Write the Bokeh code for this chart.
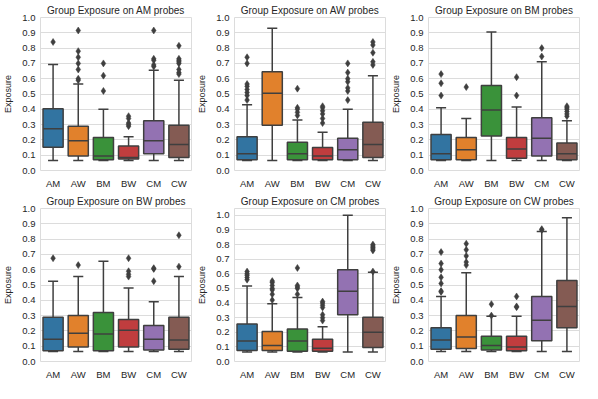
import numpy as np
from bokeh.plotting import figure
from bokeh.layouts import gridplot
from bokeh.models import Range1d, FixedTicker, ColumnDataSource, PrintfTickFormatter
from bokeh.embed import file_html
from bokeh.resources import INLINE

groups = ["AM", "AW", "BM", "BW", "CM", "CW"]
colors = ["#3274a1", "#e1812c", "#3a923a", "#c03d3e", "#9372b2", "#845b53"]
yticks = [0.0, 0.1, 0.2, 0.3, 0.4, 0.5, 0.6, 0.7, 0.8, 0.9, 1.0]

# ---- Exposure on AM probes ----
am_lo = [0.065, 0.065, 0.065, 0.065, 0.065, 0.065]
am_q1 = [0.152, 0.095, 0.070, 0.075, 0.110, 0.085]
am_med = [0.273, 0.195, 0.095, 0.085, 0.195, 0.170]
am_q3 = [0.404, 0.290, 0.215, 0.160, 0.325, 0.295]
am_hi = [0.693, 0.565, 0.400, 0.220, 0.655, 0.590]
am_out = [[0.84], [0.59, 0.60, 0.66, 0.70, 0.74, 0.78, 0.915], [0.52, 0.62, 0.70],
          [0.29, 0.30, 0.31, 0.34, 0.355], [0.68, 0.69, 0.72, 0.73, 0.915],
          [0.63, 0.64, 0.66, 0.70, 0.71, 0.72, 0.73, 0.815]]

# ---- Exposure on AW probes ----
aw_lo = [0.065, 0.065, 0.065, 0.065, 0.065, 0.065]
aw_q1 = [0.070, 0.295, 0.070, 0.070, 0.070, 0.085]
aw_med = [0.110, 0.505, 0.110, 0.095, 0.135, 0.170]
aw_q3 = [0.220, 0.645, 0.185, 0.150, 0.210, 0.315]
aw_hi = [0.430, 0.930, 0.330, 0.250, 0.400, 0.620]
aw_out = [[0.46, 0.49, 0.51, 0.53, 0.55, 0.565, 0.70, 0.74], [],
          [0.36, 0.38, 0.40, 0.41, 0.535], [0.31, 0.34, 0.37, 0.39, 0.41, 0.42],
          [0.46, 0.52, 0.54, 0.58, 0.60, 0.64, 0.70], [0.69, 0.71, 0.77, 0.82, 0.84]]

# ---- Exposure on BM probes ----
bm_lo = [0.065, 0.065, 0.065, 0.065, 0.065, 0.065]
bm_q1 = [0.070, 0.070, 0.225, 0.080, 0.095, 0.070]
bm_med = [0.110, 0.135, 0.395, 0.140, 0.210, 0.110]
bm_q3 = [0.235, 0.215, 0.555, 0.215, 0.345, 0.180]
bm_hi = [0.410, 0.340, 0.905, 0.415, 0.710, 0.325]
bm_out = [[0.49, 0.57, 0.63], [0.545], [], [0.49, 0.61], [0.745, 0.80],
          [0.355, 0.37, 0.385, 0.40, 0.41, 0.42]]

# ---- Exposure on BW probes ----
bw_lo = [0.065, 0.065, 0.065, 0.065, 0.065, 0.065]
bw_q1 = [0.070, 0.095, 0.070, 0.095, 0.075, 0.080]
bw_med = [0.145, 0.185, 0.180, 0.205, 0.145, 0.140]
bw_q3 = [0.290, 0.300, 0.320, 0.275, 0.235, 0.290]
bw_hi = [0.525, 0.555, 0.655, 0.480, 0.390, 0.555]
bw_out = [[0.675], [0.63], [], [0.555, 0.57, 0.59, 0.675], [0.525, 0.605, 0.61],
          [0.62, 0.825]]

# ---- Exposure on CM probes ----
cm_lo = [0.065, 0.065, 0.065, 0.065, 0.065, 0.065]
cm_q1 = [0.075, 0.075, 0.070, 0.070, 0.320, 0.095]
cm_med = [0.140, 0.110, 0.140, 0.090, 0.480, 0.200]
cm_q3 = [0.257, 0.205, 0.222, 0.152, 0.628, 0.302]
cm_hi = [0.517, 0.395, 0.438, 0.237, 1.000, 0.611]
cm_out = [[0.56, 0.575, 0.59, 0.60, 0.615], [0.42, 0.46, 0.49, 0.50, 0.52, 0.54, 0.55],
          [0.46, 0.50, 0.51, 0.52, 0.64], [0.28, 0.30, 0.32, 0.37, 0.385, 0.40, 0.41],
          [], [0.615, 0.76, 0.77, 0.78, 0.79, 0.80]]

# ---- Exposure on CW probes ----
cw_lo = [0.065, 0.065, 0.065, 0.065, 0.065, 0.065]
cw_q1 = [0.080, 0.085, 0.075, 0.070, 0.135, 0.220]
cw_med = [0.140, 0.160, 0.105, 0.095, 0.270, 0.360]
cw_q3 = [0.220, 0.300, 0.165, 0.165, 0.425, 0.530]
cw_hi = [0.425, 0.580, 0.295, 0.295, 0.850, 0.940]
cw_out = [[0.455, 0.46, 0.51, 0.55, 0.60, 0.64, 0.715], [0.63, 0.65, 0.69, 0.73, 0.77],
          [0.30, 0.375], [0.355, 0.36, 0.425], [0.86, 0.865], []]

panels = [
    ("AM", am_lo, am_q1, am_med, am_q3, am_hi, am_out),
    ("AW", aw_lo, aw_q1, aw_med, aw_q3, aw_hi, aw_out),
    ("BM", bm_lo, bm_q1, bm_med, bm_q3, bm_hi, bm_out),
    ("BW", bw_lo, bw_q1, bw_med, bw_q3, bw_hi, bw_out),
    ("CM", cm_lo, cm_q1, cm_med, cm_q3, cm_hi, cm_out),
    ("CW", cw_lo, cw_q1, cw_med, cw_q3, cw_hi, cw_out),
]

FONT = "Liberation Sans"
TXT = "#262626"
LINE = "#3f3f3f"
GRID = "#dcdcdc"
BOX_W = 0.8
CAP_W = 0.4


def make_panel(name, lo, q1, med, q3, hi, outl):
    x = np.arange(len(groups), dtype=float)
    all_vals = list(lo) + list(hi) + [v for o in outl for v in o]
    vmin, vmax = min(all_vals), max(all_vals)
    pad = 0.05 * (vmax - vmin)
    top = max(1.0, vmax + pad)
    bottom = min(0.0, vmin - pad)

    p = figure(width=194, height=191, output_backend="svg",
               toolbar_location=None, x_range=Range1d(-0.5, len(groups) - 0.5),
               y_range=Range1d(bottom, top),
               title="Group Exposure on %s probes" % name,
               min_border_left=0, min_border_right=3, min_border_top=0,
               min_border_bottom=0)
    p.title.align = "center"
    p.title.text_font = FONT
    p.title.text_font_size = "10px"
    p.title.text_font_style = "normal"
    p.title.text_color = TXT
    p.title.standoff = 4

    src = ColumnDataSource(dict(
        x=x, lo=lo, q1=q1, med=med, q3=q3, hi=hi, color=colors,
        left=x - BOX_W / 2, right=x + BOX_W / 2,
        cl=x - CAP_W / 2, cr=x + CAP_W / 2,
    ))
    p.segment(x0="x", x1="x", y0="lo", y1="q1", source=src, line_color=LINE, line_width=1.5)
    p.segment(x0="x", x1="x", y0="q3", y1="hi", source=src, line_color=LINE, line_width=1.5)
    p.segment(x0="cl", x1="cr", y0="lo", y1="lo", source=src, line_color=LINE, line_width=1.5)
    p.segment(x0="cl", x1="cr", y0="hi", y1="hi", source=src, line_color=LINE, line_width=1.5)
    p.quad(left="left", right="right", bottom="q1", top="q3", source=src,
           fill_color="color", line_color=LINE, line_width=1.5)
    p.segment(x0="left", x1="right", y0="med", y1="med", source=src, line_color=LINE, line_width=1.5)

    ox = [x[i] for i, o in enumerate(outl) for _ in o]
    oy = [v for o in outl for v in o]
    p.scatter(ox, oy, marker="diamond", size=7, fill_color=LINE, line_color=LINE, line_width=0.5)

    p.xaxis.ticker = FixedTicker(ticks=list(x))
    p.xaxis.major_label_overrides = {i: g for i, g in enumerate(groups)}
    p.yaxis.ticker = FixedTicker(ticks=yticks)
    p.yaxis.axis_label = "Exposure"
    p.yaxis.formatter = PrintfTickFormatter(format="%.1f")

    for ax in (p.xaxis[0], p.yaxis[0]):
        ax.axis_line_color = None
        ax.major_tick_line_color = None
        ax.minor_tick_line_color = None
        ax.major_tick_out = 0
        ax.major_tick_in = 0
        ax.minor_tick_out = 0
        ax.minor_tick_in = 0
        ax.major_label_text_font = FONT
        ax.major_label_text_font_size = "9.5px"
        ax.major_label_text_color = TXT
        ax.major_label_standoff = 5
    p.xaxis.major_label_standoff = 7
    p.yaxis.axis_label_text_font = FONT
    p.yaxis.axis_label_text_font_size = "9px"
    p.yaxis.axis_label_text_font_style = "normal"
    p.yaxis.axis_label_text_color = TXT
    p.yaxis.axis_label_standoff = 6

    p.xgrid.grid_line_color = None
    p.ygrid.grid_line_color = GRID
    p.ygrid.grid_line_width = 1
    p.outline_line_color = GRID
    p.outline_line_width = 1
    p.background_fill_color = "white"
    p.border_fill_color = "white"
    return p


figs = [make_panel(*pn) for pn in panels]
grid = gridplot([figs[0:3], figs[3:6]], toolbar_location=None)

open("out.html", "w").write(file_html(grid, INLINE))
